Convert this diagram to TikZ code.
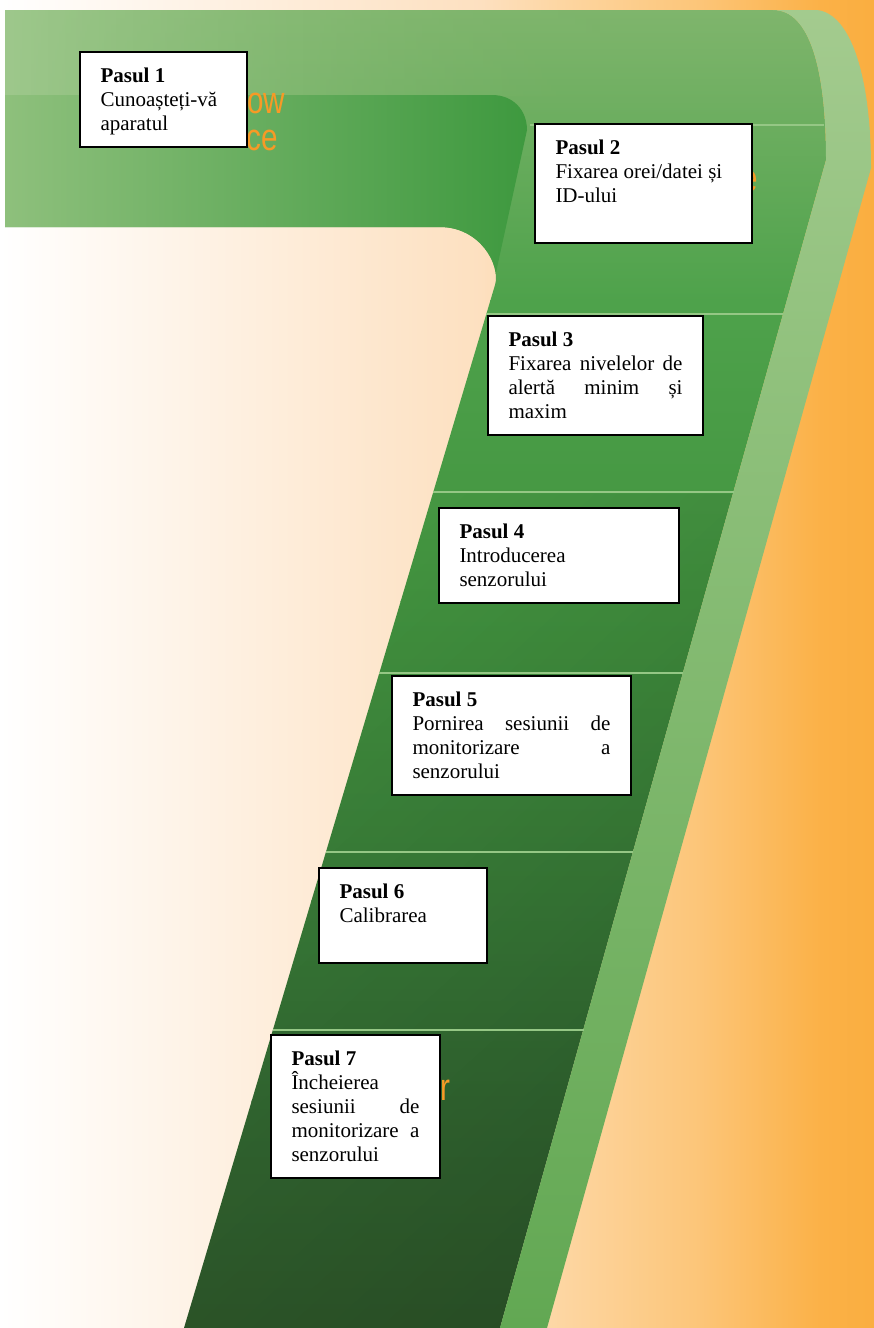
\documentclass[tikz,border=0pt]{standalone}
\usepackage{fontspec}
\setmainfont{Liberation Serif}
\newfontfamily\orfont{Liberation Sans}
\usepackage{graphicx}
\usetikzlibrary{fadings}
\definecolor{bgA}{HTML}{FFFFFF}
\definecolor{bgB}{HTML}{FDE0C0}
\definecolor{bgC}{HTML}{FDD6A2}
\definecolor{bgD}{HTML}{FCC578}
\definecolor{bgE}{HTML}{FBB147}
\definecolor{bgF}{HTML}{FAAE40}
\definecolor{tfA}{HTML}{9EC88C}
\definecolor{tfB}{HTML}{7BB369}
\definecolor{ffA}{HTML}{8EC07C}
\definecolor{ffB}{HTML}{3E993F}
\definecolor{bdA}{HTML}{7FB56C}
\definecolor{bdB}{HTML}{4EA24B}
\definecolor{bdC}{HTML}{42933F}
\definecolor{bdD}{HTML}{3B813A}
\definecolor{bdE}{HTML}{367035}
\definecolor{bdF}{HTML}{33622F}
\definecolor{rmA}{HTML}{A4CB8F}
\definecolor{rmB}{HTML}{94C380}
\definecolor{rmC}{HTML}{62A853}
\definecolor{sepC}{HTML}{95C785}
\definecolor{orT}{HTML}{F79A26}
\tikzfading[name=toBR, top color=transparent!100, bottom color=transparent!0]
\tikzfading[name=outR, left color=transparent!0, middle color=transparent!0, right color=transparent!100]
\newcommand\boxtext[3]{\begin{minipage}[t][#2][t]{#1}\fontsize{21pt}{24pt}\selectfont\rule{0pt}{30pt}#3\end{minipage}}
\newcommand\jl[1]{\makebox[\linewidth][s]{#1}}
\begin{document}
\begin{tikzpicture}[x=1pt,y=-1pt,
  stepbox/.style={draw=black, line width=2pt, fill=white, inner xsep=20.5pt, inner ysep=0pt, anchor=north west},
  ortext/.style={text=orT, inner sep=0pt, font=\orfont\fontsize{38pt}{40pt}\selectfont},
  seprule/.style={draw=sepC, line width=1.6pt}]
\useasboundingbox (0,0) rectangle (874,1328);
% background
\shade[left color=bgA, right color=bgB] (0,0) rectangle (481,1328);
\shade[left color=bgB, right color=bgC] (480,0) rectangle (561,1328);
\shade[left color=bgC, right color=bgD] (560,0) rectangle (701,1328);
\shade[left color=bgD, right color=bgE] (700,0) rectangle (821,1328);
\shade[left color=bgE, right color=bgF] (820,0) rectangle (874,1328);
% body of the seven
\begin{scope}
\clip (5,10) -- (773,10) .. controls (810,10) and (826,70) .. (826,160) -- (500,1328) -- (184,1328) -- (495,285) .. controls (501,265) and (480,227) .. (440,227) -- (5,227) -- cycle;
\shade[top color=bdA, bottom color=bdB] (0,10) rectangle (880,301);
\shade[top color=bdB, bottom color=bdC] (0,300) rectangle (880,601);
\shade[top color=bdC, bottom color=bdD] (0,600) rectangle (880,901);
\shade[top color=bdD, bottom color=bdE] (0,900) rectangle (880,1101);
\shade[top color=bdE, bottom color=bdF] (0,1100) rectangle (880,1328);
\fill[black, opacity=0.24, path fading=toBR, fading angle=35] (184,492) rectangle (830,1328);
\shade[left color=tfA, right color=tfB, path fading=outR] (5,10) rectangle (600,96);
\shade[left color=ffA, right color=ffB] (5,95) -- (492,95) .. controls (513,95) and (527,110) .. (527,130) -- (490,300) -- (5,300) -- cycle;
\end{scope}
% rim
\begin{scope}
\clip (773,10) -- (817,10) .. controls (852,14) and (871,80) .. (871,168) -- (547,1328) -- (500,1328) -- (826,160) .. controls (826,70) and (810,10) .. (773,10) -- cycle;
\shade[top color=rmA, bottom color=rmB] (480,0) rectangle (880,301);
\shade[top color=rmB, bottom color=rmC] (480,300) rectangle (880,1328);
\end{scope}
% separators
\draw[seprule] (530,125) -- (824,125);
\draw[seprule] (486,314) -- (783,314);
\draw[seprule] (433,492) -- (734,492);
\draw[seprule] (379,673) -- (683,673);
\draw[seprule] (326,852) -- (633,852);
\draw[seprule] (273,1030) -- (584,1030);
% orange text fragments showing beside the boxes
\node[ortext, anchor=base west] (know) at (247,113) {\scalebox{0.78}[1]{ow}};
\node[ortext, anchor=base west] (dev) at (246,150) {\scalebox{0.78}[1]{ce}};
\node[ortext, anchor=base east] (frag2) at (758,191) {\scalebox{0.78}[1]{e}};
\node[ortext, anchor=base east] (frag7) at (451,1100) {\scalebox{0.78}[1]{r}};
% step boxes
\node[stepbox] (s1) at (79,51) {\boxtext{126pt}{95pt}{\textbf{Pasul 1}\\Cunoașteți-vă\\aparatul}};
\node[stepbox] (s2) at (534,123) {\boxtext{176pt}{119pt}{\textbf{Pasul 2}\\Fixarea orei/datei și\\ID-ului}};
\node[stepbox] (s3) at (487,315) {\boxtext{174pt}{119pt}{\textbf{Pasul 3}\\\jl{Fixarea nivelelor de}\\\jl{alertă minim și}\\maxim}};
\node[stepbox] (s4) at (438,507) {\boxtext{199pt}{95pt}{\textbf{Pasul 4}\\Introducerea\\senzorului}};
\node[stepbox] (s5) at (391,675) {\boxtext{198pt}{119pt}{\textbf{Pasul 5}\\\jl{Pornirea sesiunii de}\\\jl{monitorizare a}\\senzorului}};
\node[stepbox] (s6) at (318,867) {\boxtext{127pt}{95pt}{\textbf{Pasul 6}\\Calibrarea}};
\node[stepbox] (s7) at (270,1034) {\boxtext{128pt}{143pt}{\textbf{Pasul 7}\\Încheierea\\\jl{sesiunii de}\\\jl{monitorizare a}\\senzorului}};
\end{tikzpicture}
\end{document}
